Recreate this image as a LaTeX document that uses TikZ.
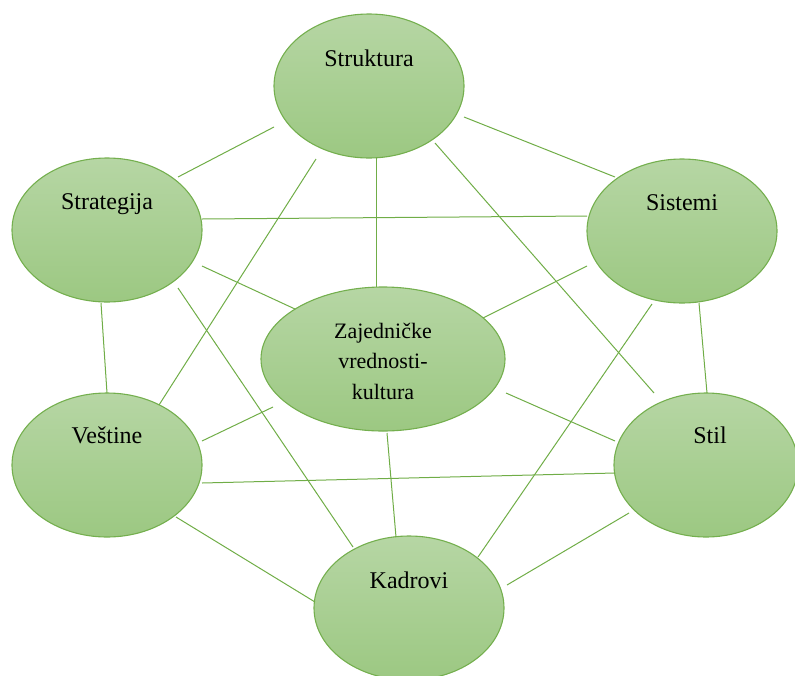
\documentclass[tikz,border=0pt]{standalone}
\usepackage{fontspec}
\setmainfont{Liberation Serif}
\usetikzlibrary{shapes.geometric}
\definecolor{topg}{HTML}{B6D6A4}
\definecolor{botg}{HTML}{9CC882}
\definecolor{edgeg}{HTML}{74AF4E}
\definecolor{lineg}{HTML}{70AD47}
\tikzset{
  bubble/.style={ellipse, draw=edgeg, line width=1.1pt, top color=topg, bottom color=botg,
    minimum width=190pt, minimum height=144pt, inner sep=0pt},
  lab/.style={anchor=base, inner sep=0pt, font=\fontsize{24}{28}\selectfont},
  link/.style={draw=lineg, line width=1pt},
}
\newcommand{\lk}[6]{\draw[link] ([shift={(#2,#3)}]#1.center) -- ([shift={(#5,#6)}]#4.center);}
\begin{document}
\begin{tikzpicture}[x=1pt,y=-1pt]
\useasboundingbox (0,0) rectangle (795,675);
\clip (0,0) rectangle (795,675);
\node[bubble] (struk) at (369,86) {};
\node[bubble] (strat) at (107,230) {};
\node[bubble] (sist) at (682,231) {};
\node[bubble, minimum width=244pt] (zaj) at (383,359) {};
\node[bubble] (vest) at (107,465) {};
\node[bubble, minimum width=184pt] (stil) at (706,465) {};
\node[bubble] (kadr) at (409,608) {};
\node[lab] (struk-t) at (369,66) {Struktura};
\node[lab] (strat-t) at (107,209) {Strategija};
\node[lab] (sist-t) at (682,210) {Sistemi};
\node[lab] (vest-t) at (107,443) {Veštine};
\node[lab] (stil-t) at (710,443) {Stil};
\node[lab] (kadr-t) at (409,588) {Kadrovi};
\node[inner sep=0pt, align=center, font=\fontsize{22}{30.5}\selectfont] (zaj-t) at (383,361) {Zajedničke\\vrednosti-\\kultura};
\lk{struk}{-95}{41}{strat}{71}{-53}
\lk{struk}{95}{31}{sist}{-67}{-54}
\lk{strat}{95}{-11}{sist}{-95}{-15}
\lk{struk}{7}{72}{zaj}{-7}{-72}
\lk{struk}{-53}{73}{vest}{52}{-60}
\lk{struk}{66}{57}{stil}{-52}{-72}
\lk{strat}{95}{36}{zaj}{-88}{-50}
\lk{sist}{-95}{35}{zaj}{100}{-41}
\lk{strat}{-6}{73}{vest}{0}{-72}
\lk{strat}{71}{58}{kadr}{-56}{-61}
\lk{sist}{17}{72}{stil}{1}{-72}
\lk{sist}{-30}{73}{kadr}{69}{-51}
\lk{zaj}{-110}{48}{vest}{95}{-24}
\lk{zaj}{123}{34}{stil}{-91}{-24}
\lk{zaj}{4}{74}{kadr}{-13}{-71}
\lk{vest}{95}{18}{stil}{-91}{8}
\lk{vest}{69}{52}{kadr}{-94}{-6}
\lk{stil}{-77}{48}{kadr}{98}{-23}
\end{tikzpicture}
\end{document}
